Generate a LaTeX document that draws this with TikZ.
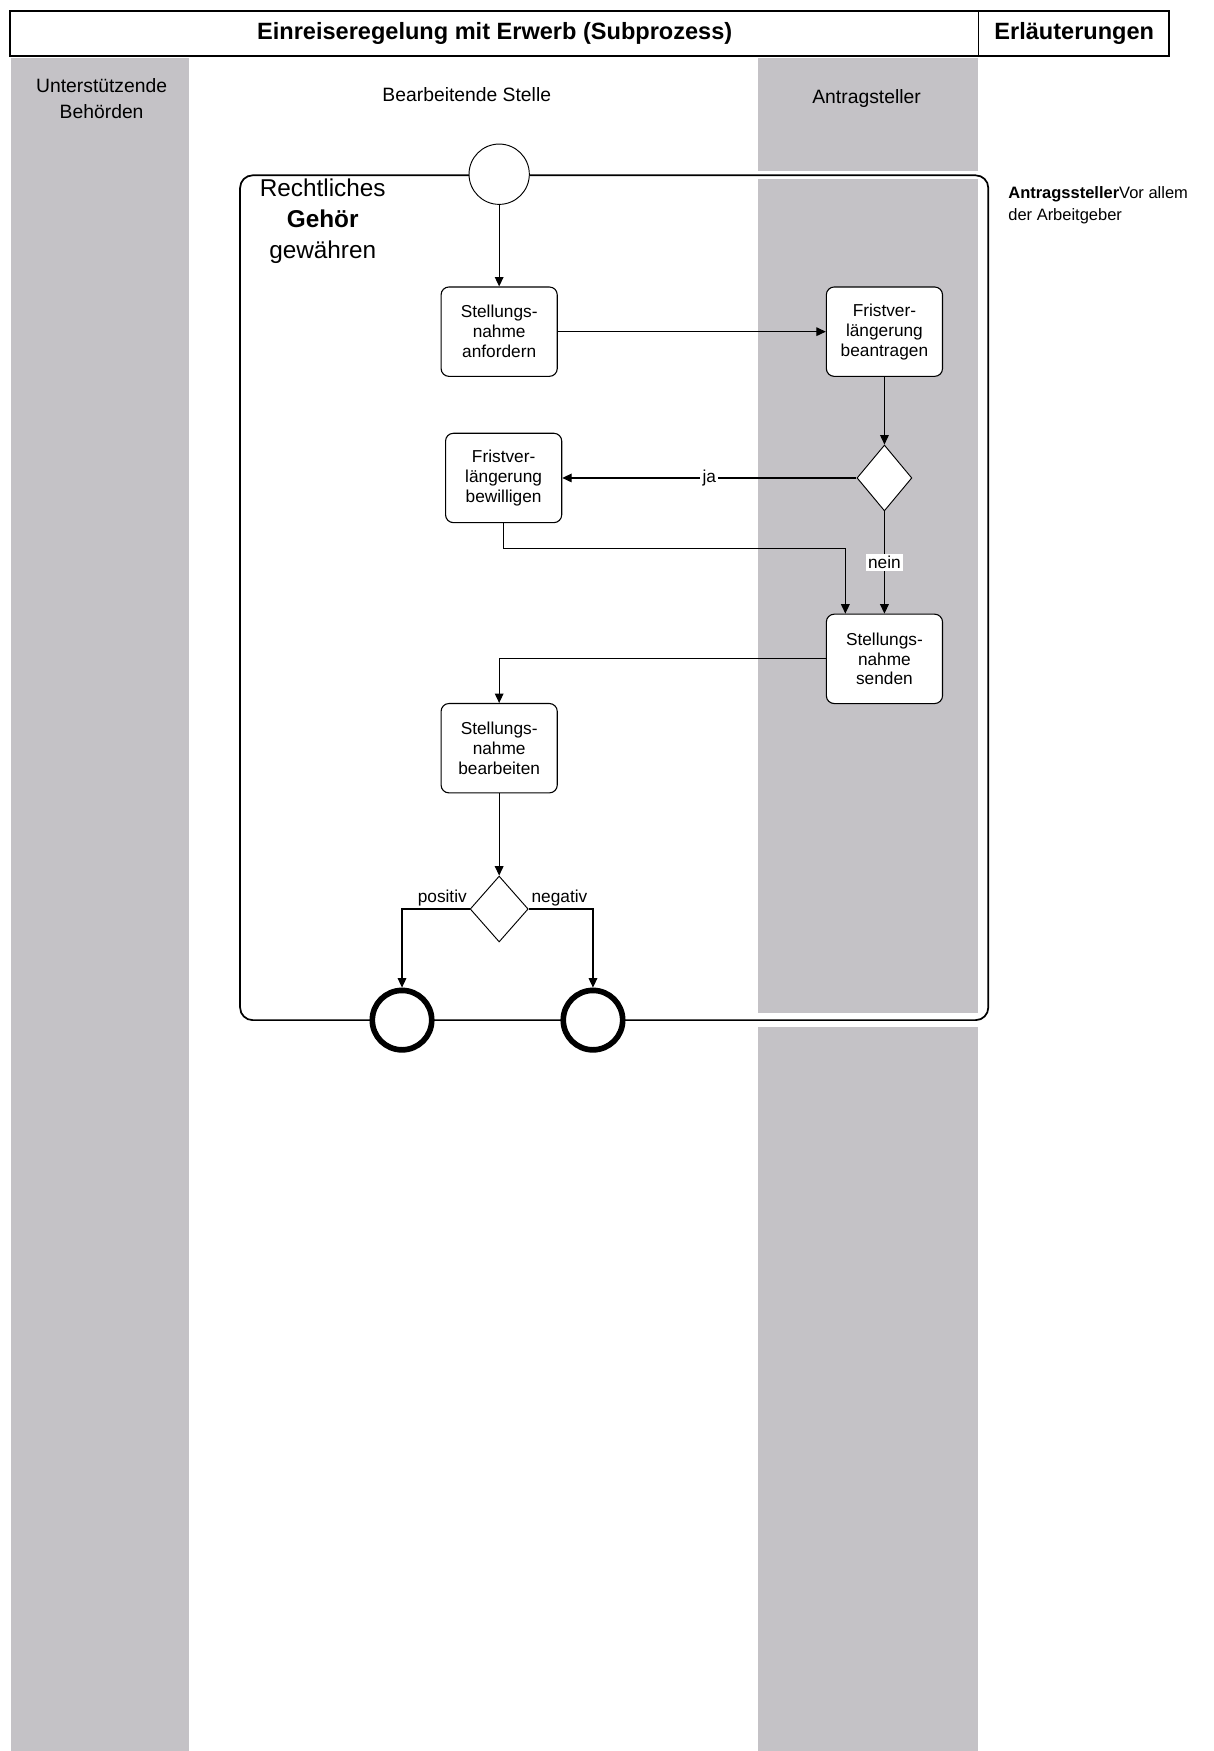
\documentclass[tikz,border=0pt]{standalone}
\usepackage{fontspec}
\setmainfont{Liberation Sans}
\usetikzlibrary{arrows.meta,shapes.geometric,calc}
\definecolor{lane}{RGB}{196,194,198}
\tikzset{
  task/.style={draw,rounded corners=5pt,minimum width=2.6cm,minimum height=2cm,align=center,
    font=\fontsize{11}{12.7}\selectfont,fill=white,line width=0.7pt},
  gate/.style={draw,diamond,aspect=0.83,inner sep=0pt,minimum width=1.23cm,minimum height=1.475cm,
    fill=white,line width=0.6pt},
  flow/.style={line width=0.7pt,-{Triangle[length=6pt,width=5.5pt]}},
  cond/.style={font=\fontsize{11}{13}\selectfont,inner sep=1.5pt},
  lanelabel/.style={align=center,font=\fontsize{12.3}{16.3}\selectfont},
  endevent/.style={draw,circle,fill=white,line width=3.6pt,minimum size=1.33cm,inner sep=0pt}
}

\begin{document}
\begin{tikzpicture}[x=0.025cm,y=-0.025cm]
\useasboundingbox (0,0) rectangle (1087,1568);
\fill[lane] (10,52) rectangle (169,1568);
\fill[lane] (679,52) rectangle (876,153);
\fill[lane] (679,160.5) rectangle (876,907);
\fill[lane] (679,919.5) rectangle (876,1568);
\draw[line width=0.9pt] (9,10) rectangle (1047,50);
\draw[line width=0.9pt] (876,10) -- (876,50);
\node[font=\fontsize{15}{18}\selectfont\bfseries] (T) at (443,30) {Einreiseregelung mit Erwerb (Subprozess)};
\node[font=\fontsize{15}{18}\selectfont\bfseries] (E) at (962,30) {Erläuterungen};
\node[lanelabel] (L1) at (91,88.5) {Unterstützende\\Behörden};
\node[lanelabel] (L2) at (418,85) {Bearbeitende Stelle};
\node[lanelabel] (L3) at (776,88) {Antragsteller};
\draw[line width=1.1pt,rounded corners=8] (215,157) rectangle (885,913.5);
\node[align=center,font=\fontsize{15.5}{19.8}\selectfont] (G) at (289,198) {Rechtliches\\\textbf{Gehör}\\gewähren};
\node[anchor=north west,align=left,font=\fontsize{10.5}{14.2}\selectfont] (N) at (898,162)
  {\textbf{Antragssteller}Vor allem\\der Arbeitgeber};

\node[draw,circle,fill=white,minimum size=1.35cm,inner sep=0pt,line width=0.6pt] (S) at (447,156) {};
\node[task] (A) at (447,297) {Stellungs-\\nahme\\anfordern};
\node[task] (B) at (792,297) {Fristver-\\längerung\\beantragen};
\node[gate] (D1) at (792,428) {};
\node[task] (C) at (451,428) {Fristver-\\längerung\\bewilligen};
\node[task] (F) at (792,590) {Stellungs-\\nahme\\senden};
\node[task] (H) at (447,670) {Stellungs-\\nahme\\bearbeiten};
\node[gate,minimum width=1.3cm] (D2) at (447,814) {};
\node[endevent] (X1) at (360,913.5) {};
\node[endevent] (X2) at (531,913.5) {};
\coordinate (K) at (757,491);

\draw[flow] (S) -- (A);
\draw[flow] (A) -- (B);
\draw[flow] (B) -- (D1);
\draw[flow] (D1) -- node[cond,fill=white] {ja} (C);
\draw[flow] (D1) -- node[cond,fill=white] {nein} (F);
\draw[flow] (C.south) |- (K) -- (K |- F.north);
\draw[flow] (F.west) -| (H.north);
\draw[flow] (H) -- (D2);
\draw[flow] (D2.west) node[cond,anchor=south east] {positiv} -| (X1.north);
\draw[flow] (D2.east) node[cond,anchor=south west] {negativ} -| (X2.north);
\end{tikzpicture}
\end{document}
